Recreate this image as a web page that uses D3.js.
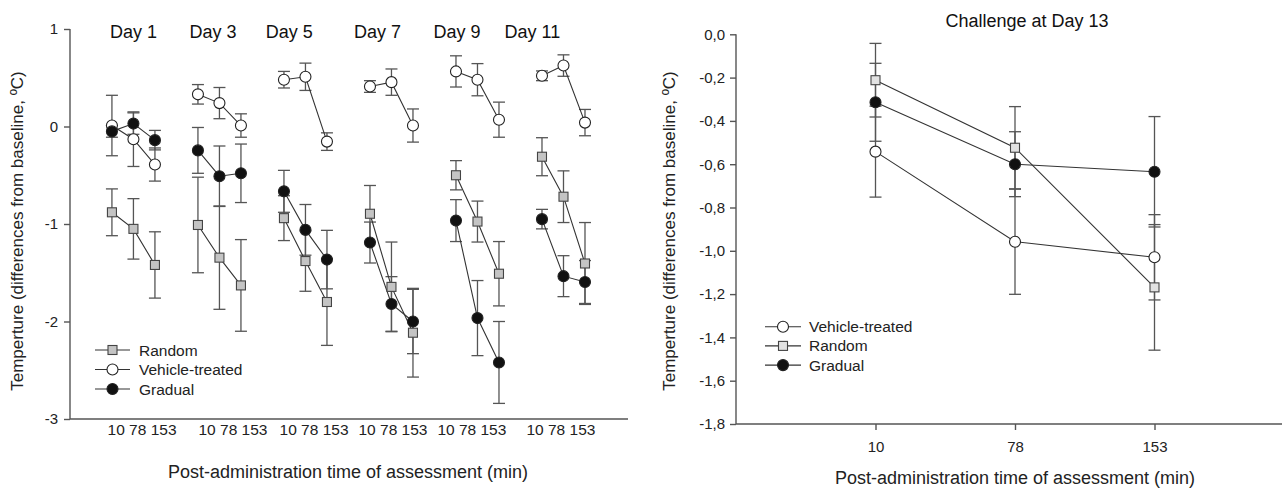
<!DOCTYPE html>
<html>
<head>
<meta charset="utf-8">
<script src="https://cdn.jsdelivr.net/npm/d3@7/dist/d3.min.js"></script>
<style>
  body { margin: 0; background: #fff; }
  svg { display: block; font-family: Arial, "Liberation Sans", sans-serif; }
  .axis path, .axis line { stroke: #555; stroke-width: 1.4; }
  .axis text { fill: #222; }
</style>
</head>
<body>
<div class="chart"></div>
<script>
// ---- data ----
var days = ["Day 1", "Day 3", "Day 5", "Day 7", "Day 9", "Day 11"];
var times = [10, 78, 153];

// left panel, one row per day, values at 10 / 78 / 153 min
var vehicleMean = [[0.01, -0.13, -0.39], [0.33, 0.24, 0.01], [0.48, 0.51, -0.155], [0.41, 0.455, 0.01], [0.565, 0.48, 0.07], [0.52, 0.625, 0.04]];
var vehicleSE   = [[0.31, 0.28, 0.17], [0.10, 0.16, 0.12], [0.085, 0.14, 0.09], [0.06, 0.135, 0.17], [0.16, 0.165, 0.18], [0.05, 0.11, 0.135]];
var randomMean  = [[-0.88, -1.05, -1.42], [-1.01, -1.345, -1.63], [-0.94, -1.38, -1.80], [-0.895, -1.645, -2.115], [-0.50, -0.975, -1.51], [-0.31, -0.72, -1.405]];
var randomSE    = [[0.24, 0.31, 0.34], [0.49, 0.53, 0.47], [0.23, 0.31, 0.445], [0.29, 0.46, 0.455], [0.15, 0.21, 0.33], [0.195, 0.265, 0.42]];
var gradualMean = [[-0.05, 0.03, -0.14], [-0.245, -0.51, -0.48], [-0.665, -1.06, -1.365], [-1.19, -1.82, -2.0], [-0.965, -1.965, -2.42], [-0.95, -1.535, -1.595]];
var gradualSE   = [[0.06, 0.11, 0.10], [0.235, 0.31, 0.30], [0.215, 0.26, 0.30], [0.21, 0.28, 0.33], [0.215, 0.385, 0.42], [0.10, 0.21, 0.22]];

// right panel, challenge at day 13
var chVehicleMean = [-0.542, -0.958, -1.03];
var chVehicleSE   = [0.21, 0.243, 0.197];
var chRandomMean  = [-0.212, -0.524, -1.169];
var chRandomSE    = [0.17, 0.19, 0.29];
var chGradualMean = [-0.314, -0.60, -0.635];
var chGradualSE   = [0.18, 0.15, 0.255];

var leftYTicks = [1, 0, -1, -2, -3];
var rightYTicks = [0, -0.2, -0.4, -0.6, -0.8, -1.0, -1.2, -1.4, -1.6, -1.8];

// ---- layout ----
var W = 1282, H = 488;
var yTitle = "Temperture (differences from baseline, \u00baC)";
var xTitle = "Post-administration time of assessment (min)";
// label centres in x-index units (they don't sit exactly on the groups)
var dayLabelPos = [1.0, 4.7, 8.25, 12.35, 16.05, 19.55];
var timeLabelPos = [1.4, 5.63, 9.4, 13.07, 16.74, 20.88];

var svg = d3.select(".chart").append("svg")
    .attr("width", W)
    .attr("height", H);

var lineCol = "#333", barCol = "#555";

function drawBars(g, pts, x, y) {
  pts.forEach(function(p) {
    var cx = x(p.x);
    g.append("line").attr("x1", cx).attr("x2", cx)
      .attr("y1", y(p.m + p.se)).attr("y2", y(p.m - p.se))
      .attr("stroke", barCol).attr("stroke-width", 1.3);
    [p.m + p.se, p.m - p.se].forEach(function(v) {
      g.append("line").attr("x1", cx - 6).attr("x2", cx + 6)
        .attr("y1", y(v)).attr("y2", y(v))
        .attr("stroke", barCol).attr("stroke-width", 1.3);
    });
  });
}

function drawLine(g, pts, x, y) {
  g.append("path")
    .datum(pts)
    .attr("fill", "none")
    .attr("stroke", lineCol)
    .attr("stroke-width", 1.1)
    .attr("d", d3.line().x(function(d) { return x(d.x); }).y(function(d) { return y(d.m); }));
}

function marker(g, cx, cy, kind, fill) {
  if (kind === "circle") {
    g.append("circle").attr("cx", cx).attr("cy", cy).attr("r", 5.5)
      .attr("fill", fill).attr("stroke", "#222").attr("stroke-width", 1.1);
  } else {
    g.append("rect").attr("x", cx - 4.5).attr("y", cy - 4.5)
      .attr("width", 9).attr("height", 9)
      .attr("fill", fill).attr("stroke", "#444").attr("stroke-width", 1.1);
  }
}

// ================= LEFT PANEL =================
var xL = d3.scaleLinear().domain([-1.95, 24]).range([70, 628]);
var yL = d3.scaleLinear().domain([-3, 1]).range([419, 29]);

var left = svg.append("g");

left.append("g")
    .attr("class", "axis")
    .attr("transform", "translate(70,0)")
    .call(d3.axisLeft(yL).tickValues(leftYTicks).tickSize(6).tickPadding(6)
      .tickFormat(function(d) { return d < 0 ? "-" + Math.abs(d) : String(d); }))
    .call(function(a) { a.select(".domain").attr("d", "M0," + yL(1) + "V" + yL(-3)); })
    .selectAll("text").style("font-size", "15px");

left.append("g")
    .attr("class", "axis")
    .attr("transform", "translate(0,419)")
    .call(d3.axisBottom(xL).tickValues([]).tickSize(0))
    .call(function(a) { a.select(".domain").attr("d", "M70,0H628"); });

// time labels under each day group
left.selectAll(".tl")
  .data(days)
  .enter().append("text")
  .attr("x", function(d, i) { return xL(timeLabelPos[i]); })
  .attr("y", 434.5)
  .attr("text-anchor", "middle")
  .style("font-size", "15.5px")
  .style("fill", "#222")
  .text(times.join(" "));

// day labels
left.selectAll(".day")
  .data(days)
  .enter().append("text")
  .attr("x", function(d, i) { return xL(dayLabelPos[i]); })
  .attr("y", 38)
  .attr("text-anchor", "middle")
  .style("font-size", "18px")
  .style("fill", "#111")
  .text(function(d) { return d; });

var leftSeries = [
  { mean: randomMean, se: randomSE, kind: "square", fill: "#c4c4c4" },
  { mean: vehicleMean, se: vehicleSE, kind: "circle", fill: "#fff" },
  { mean: gradualMean, se: gradualSE, kind: "circle", fill: "#111" }
];

var gBars = left.append("g"), gLines = left.append("g"), gMarks = left.append("g");
leftSeries.forEach(function(s) {
  days.forEach(function(d, i) {
    var pts = times.map(function(t, j) { return { x: i * 4 + j, m: s.mean[i][j], se: s.se[i][j] }; });
    drawBars(gBars, pts, xL, yL);
    drawLine(gLines, pts, xL, yL);
    pts.forEach(function(p) { marker(gMarks, xL(p.x), yL(p.m), s.kind, s.fill); });
  });
});

// legend left
var legL = [["Random", "square", "#c4c4c4"], ["Vehicle-treated", "circle", "#fff"], ["Gradual", "circle", "#111"]];
legL.forEach(function(l, i) {
  var ly = 350 + i * 19.5;
  left.append("line").attr("x1", 95).attr("x2", 130).attr("y1", ly).attr("y2", ly)
    .attr("stroke", lineCol).attr("stroke-width", 1.1);
  marker(left, 112.5, ly, l[1], l[2]);
  left.append("text").attr("x", 139).attr("y", ly + 5.5)
    .style("font-size", "15.5px").style("fill", "#222").text(l[0]);
});

left.append("text")
  .attr("transform", "translate(23,231) rotate(-90)")
  .attr("text-anchor", "middle")
  .style("font-size", "17px").style("fill", "#222")
  .text(yTitle);

left.append("text")
  .attr("x", 348).attr("y", 478)
  .attr("text-anchor", "middle")
  .style("font-size", "18px").style("fill", "#222")
  .text(xTitle);

// ================= RIGHT PANEL =================
var xR = d3.scaleLinear().domain([0, 4]).range([736, 1294]);
var yR = d3.scaleLinear().domain([-1.8, 0]).range([424, 34.3]);
var commaFmt = d3.formatLocale({ decimal: ",", thousands: ".", grouping: [3], currency: ["", ""], minus: "-" }).format(".1f");

var right = svg.append("g");

right.append("g")
    .attr("class", "axis")
    .attr("transform", "translate(736,0)")
    .call(d3.axisLeft(yR).tickValues(rightYTicks).tickSize(6).tickPadding(5)
      .tickFormat(function(d) { return commaFmt(d); }))
    .call(function(a) { a.select(".domain").attr("d", "M0," + yR(0) + "V" + yR(-1.8)); })
    .selectAll("text").style("font-size", "15px");

right.append("g")
    .attr("class", "axis")
    .attr("transform", "translate(0,424)")
    .call(d3.axisBottom(xR).tickValues([1, 2, 3]).tickSize(6).tickPadding(11)
      .tickFormat(function(d) { return times[d - 1]; }))
    .call(function(a) { a.select(".domain").attr("d", "M736,0H1294"); })
    .selectAll("text").style("font-size", "15px");

right.append("text")
  .attr("x", 1027).attr("y", 26.5)
  .attr("text-anchor", "middle")
  .style("font-size", "18px").style("fill", "#111")
  .text("Challenge at Day 13");

var rightSeries = [
  { mean: chVehicleMean, se: chVehicleSE, kind: "circle", fill: "#fff" },
  { mean: chRandomMean, se: chRandomSE, kind: "square", fill: "#e2e2e2" },
  { mean: chGradualMean, se: chGradualSE, kind: "circle", fill: "#111" }
];

var rBars = right.append("g"), rLines = right.append("g"), rMarks = right.append("g");
rightSeries.forEach(function(s) {
  var pts = times.map(function(t, j) { return { x: j + 1, m: s.mean[j], se: s.se[j] }; });
  drawBars(rBars, pts, xR, yR);
  drawLine(rLines, pts, xR, yR);
  pts.forEach(function(p) { marker(rMarks, xR(p.x), yR(p.m), s.kind, s.fill); });
});

var legR = [["Vehicle-treated", "circle", "#fff"], ["Random", "square", "#e2e2e2"], ["Gradual", "circle", "#111"]];
legR.forEach(function(l, i) {
  var ly = 326.7 + i * 19.2;
  right.append("line").attr("x1", 765).attr("x2", 801).attr("y1", ly).attr("y2", ly)
    .attr("stroke", lineCol).attr("stroke-width", 1.1);
  marker(right, 783, ly, l[1], l[2]);
  right.append("text").attr("x", 809).attr("y", ly + 5.5)
    .style("font-size", "15.5px").style("fill", "#222").text(l[0]);
});

right.append("text")
  .attr("transform", "translate(675,231) rotate(-90)")
  .attr("text-anchor", "middle")
  .style("font-size", "17px").style("fill", "#222")
  .text(yTitle);

right.append("text")
  .attr("x", 1015).attr("y", 484)
  .attr("text-anchor", "middle")
  .style("font-size", "18px").style("fill", "#222")
  .text(xTitle);
</script>
</body>
</html>
